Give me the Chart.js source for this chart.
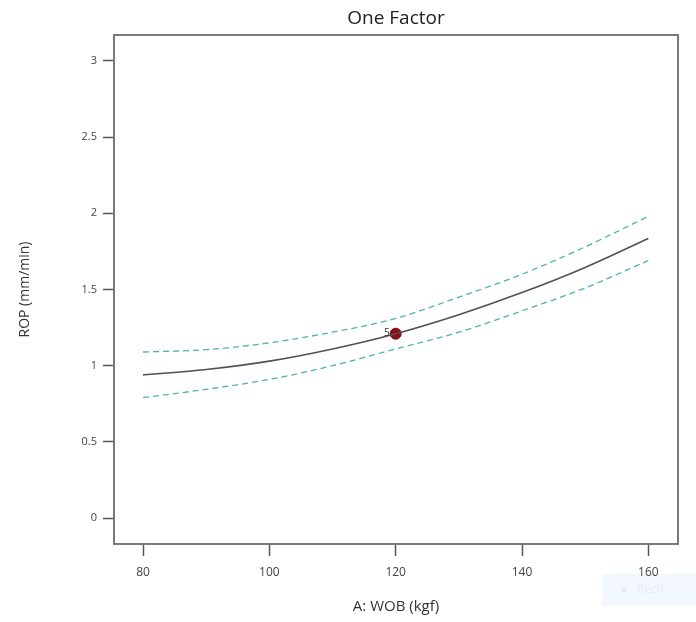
<!DOCTYPE html>
<html>
<head>
<meta charset="utf-8">
<script src="https://cdn.jsdelivr.net/npm/chart.js@4.4.1/dist/chart.umd.min.js"></script>
<style>
  body { margin: 0; background: #fff; }
  #wrap { width: 696px; height: 622px; }
</style>
</head>
<body>
<div id="wrap"><canvas id="chart" width="696" height="622"></canvas></div>
<script>
// values
const wob = [80, 90, 100, 110, 120, 130, 140, 150, 160];
const rop = [0.94, 0.975, 1.03, 1.11, 1.21, 1.335, 1.48, 1.645, 1.835];
const ropUpper = [1.09, 1.105, 1.15, 1.22, 1.31, 1.45, 1.60, 1.78, 1.98];
const ropLower = [0.79, 0.845, 0.91, 1.00, 1.11, 1.22, 1.36, 1.51, 1.69];
const designPoint = { x: 120, y: 1.21, label: '5' };

const xTicks = [80, 100, 120, 140, 160];
const yTicks = [0, 0.5, 1, 1.5, 2, 2.5, 3];

function toXY(xs, ys) {
  return xs.map((x, i) => ({ x: x, y: ys[i] }));
}

// faint overlay in the corner, drawn behind everything
const cornerPlugin = {
  id: 'cornerPlugin',
  beforeDraw(chart) {
    const ctx = chart.ctx;
    ctx.save();
    ctx.fillStyle = 'rgba(232,242,252,0.55)';
    ctx.fillRect(602, 574, 94, 32);
    ctx.fillStyle = 'rgba(190,205,220,0.3)';
    ctx.font = '12px "Open Sans"';
    ctx.textBaseline = 'middle';
    ctx.fillText('\u25CF   Rech', 620, 590);
    ctx.restore();
  }
};

// box around the plot and the "5" label
const boxPlugin = {
  id: 'boxPlugin',
  afterDraw(chart) {
    const ctx = chart.ctx;
    const a = chart.chartArea;
    ctx.save();
    ctx.strokeStyle = '#7a7a7a';
    ctx.lineWidth = 2;
    ctx.strokeRect(a.left, a.top, a.right - a.left, a.bottom - a.top);

    const px = chart.scales.x.getPixelForValue(designPoint.x);
    const py = chart.scales.y.getPixelForValue(designPoint.y);
    ctx.fillStyle = '#333';
    ctx.font = '10px "Open Sans"';
    ctx.textAlign = 'right';
    ctx.textBaseline = 'middle';
    ctx.fillText(designPoint.label, px - 6, py - 1);
    ctx.restore();
  }
};

new Chart(document.getElementById('chart'), {
  type: 'line',
  data: {
    datasets: [
      {
        data: toXY(wob, ropUpper),
        borderColor: '#4fb3ad',
        borderWidth: 1.3,
        borderDash: [6, 4],
        pointRadius: 0,
        cubicInterpolationMode: 'monotone'
      },
      {
        data: toXY(wob, ropLower),
        borderColor: '#4fb3ad',
        borderWidth: 1.3,
        borderDash: [6, 4],
        pointRadius: 0,
        cubicInterpolationMode: 'monotone'
      },
      {
        data: toXY(wob, rop),
        borderColor: '#5b4b52',
        borderWidth: 1.6,
        pointRadius: 0,
        cubicInterpolationMode: 'monotone'
      },
      {
        data: [{ x: designPoint.x, y: designPoint.y }],
        showLine: false,
        pointRadius: 5.5,
        pointBackgroundColor: '#8e1016',
        pointBorderColor: '#5a0a0e',
        pointBorderWidth: 1
      }
    ]
  },
  options: {
    responsive: false,
    animation: false,
    layout: { padding: { left: 17, right: 18, top: 0, bottom: 6 } },
    plugins: {
      legend: { display: false },
      tooltip: { enabled: false },
      title: {
        display: true,
        text: 'One Factor',
        fullSize: false,
        color: '#222',
        font: { family: 'Open Sans', size: 19, weight: 'normal' },
        padding: { top: 7, bottom: 5.2 }
      }
    },
    scales: {
      x: {
        type: 'linear',
        min: 75.4,
        max: 164.7,
        afterBuildTicks(s) { s.ticks = xTicks.map(v => ({ value: v })); },
        afterFit(s) { s.height = 72; },
        border: { display: false },
        grid: { drawOnChartArea: false, tickLength: 12, color: '#555', tickWidth: 1.5 },
        ticks: { color: '#444', font: { family: 'Open Sans', size: 12 }, padding: 9, maxRotation: 0 },
        title: {
          display: true,
          text: 'A: WOB (kgf)',
          color: '#333',
          font: { family: 'Open Sans', size: 15 },
          padding: { top: 0, bottom: 0 }
        }
      },
      y: {
        type: 'linear',
        min: -0.17,
        max: 3.17,
        afterBuildTicks(s) { s.ticks = yTicks.map(v => ({ value: v })); },
        afterFit(s) { s.width = 97; },
        border: { display: false },
        grid: { drawOnChartArea: false, tickLength: 11, color: '#555', tickWidth: 1.5 },
        ticks: {
          color: '#444',
          font: { family: 'Open Sans', size: 11 },
          padding: 6,
          callback: v => String(v)
        },
        title: {
          display: true,
          text: 'ROP (mm/min)',
          color: '#333',
          font: { family: 'Open Sans', size: 14 },
          padding: { top: 0, bottom: 0 }
        }
      }
    }
  },
  plugins: [cornerPlugin, boxPlugin]
});
</script>
</body>
</html>
